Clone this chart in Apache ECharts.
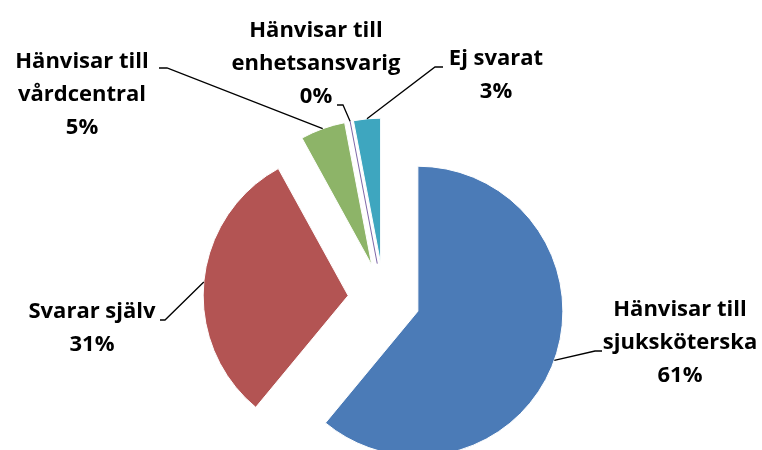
<!DOCTYPE html>
<html>
<head>
<meta charset="utf-8">
<script src="https://cdn.jsdelivr.net/npm/echarts@6/dist/echarts.min.js"></script>
<style>
  html, body { margin: 0; padding: 0; background: #fff; }
  #chart { width: 762px; height: 450px; }
</style>
</head>
<body>
<div id="chart"></div>
<script>
// Answers by category (percent)
const categories = [
  'Hänvisar till\nsjuksköterska',
  'Svarar själv',
  'Hänvisar till\nvårdcentral',
  'Hänvisar till\nenhetsansvarig',
  'Ej svarat'
];
const values = [61, 31, 5, 0, 3];

// Styling
const colors = ['#4B7BB7', '#B35453', '#8DB468', '#7E67A8', '#3EA6BF'];
const CENTER = [384, 299];
const RADIUS = 145;
const EXPLODE = 36;
const LABEL_FONT = 'bold 22px "Open Sans", sans-serif';

// Label placement (text centre) and leader-line bends
const labelAnchors = [[680, 343], [92, 328], [82, 95], [316, 64], [496, 75]];
const labelElbows  = [[595, 351], [165, 320], [167, 68], [343, 105], [435, 67]];
const labelEnds    = [[602, 351], [160, 320], [159, 68], [337, 105], [443, 67]];

const total = values.reduce((a, b) => a + b, 0);

// Middle angle of a slice, clockwise from 12 o'clock (radians)
function midAngle(i) {
  let before = 0;
  for (let k = 0; k < i; k++) before += values[k];
  return (before + values[i] / 2) / total * Math.PI * 2;
}

// Point at distance r from the pie centre along a slice's middle angle
function alongSlice(i, r) {
  const a = midAngle(i);
  return [CENTER[0] + Math.sin(a) * r, CENTER[1] - Math.cos(a) * r];
}

const graphics = [];

// Zero-sized slices still show as a thin edge line
values.forEach((v, i) => {
  if (v === 0) {
    graphics.push({
      type: 'polyline',
      shape: { points: [alongSlice(i, EXPLODE), alongSlice(i, EXPLODE + RADIUS)] },
      style: { stroke: colors[i], lineWidth: 1, fill: null },
      z: 10
    });
  }
});

// Leader lines and data labels
categories.forEach((name, i) => {
  graphics.push({
    type: 'polyline',
    shape: { points: [alongSlice(i, EXPLODE + RADIUS), labelElbows[i], labelEnds[i]] },
    style: { stroke: '#000', lineWidth: 1.3, fill: null },
    z: 10
  });
  graphics.push({
    type: 'text',
    x: labelAnchors[i][0],
    y: labelAnchors[i][1],
    style: {
      text: name + '\n' + values[i] + '%',
      font: LABEL_FONT,
      lineHeight: 33,
      fill: '#000',
      align: 'center',
      verticalAlign: 'middle'
    },
    z: 10
  });
});

const chart = echarts.init(document.getElementById('chart'));
chart.setOption({
  animation: false,
  backgroundColor: '#fff',
  graphic: graphics,
  series: [{
    type: 'pie',
    center: CENTER,
    radius: RADIUS,
    startAngle: 90,
    clockwise: true,
    selectedMode: 'multiple',
    selectedOffset: EXPLODE,
    emphasis: { disabled: true },
    itemStyle: { borderColor: '#fff', borderWidth: 1 },
    label: { show: false },
    labelLine: { show: false },
    data: categories.map((name, i) => ({
      name: name,
      value: values[i],
      selected: true,
      itemStyle: { color: colors[i] }
    }))
  }]
});
</script>
</body>
</html>
